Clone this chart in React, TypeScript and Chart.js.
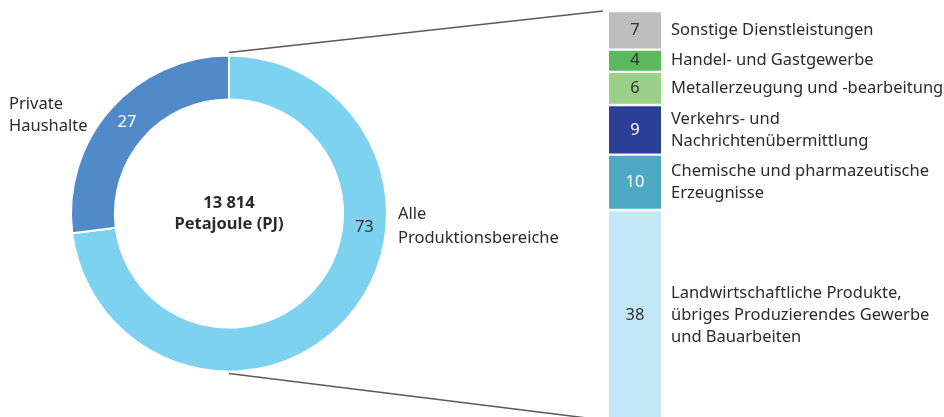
import React, { useEffect, useRef } from "react";
import { Chart, registerables } from "chart.js";
Chart.register(...registerables);

const shareLabels = ["Alle Produktionsbereiche", "Private Haushalte"];
const shareValues = [73, 27];
const shareOuterLabels = [["Alle", "Produktionsbereiche"], ["Private", "Haushalte"]];
const totalLines = ["13 814", "Petajoule (PJ)"];

const sectorLabels = [
  ["Landwirtschaftliche Produkte,", "übriges Produzierendes Gewerbe", "und Bauarbeiten"],
  ["Chemische und pharmazeutische", "Erzeugnisse"],
  ["Verkehrs- und", "Nachrichtenübermittlung"],
  ["Metallerzeugung und -bearbeitung"],
  ["Handel- und Gastgewerbe"],
  ["Sonstige Dienstleistungen"],
];
const sectorValues = [38, 10, 9, 6, 4, 7];

const shareColors = ["#7dd3ef", "#508ac8"];
const shareTextColors = ["#333333", "#ffffff"];
const sectorColors = ["#c3e7f5", "#4eaac4", "#2b3f96", "#9ad088", "#5cb85c", "#bebebe"];
const sectorTextColors = ["#333333", "#ffffff", "#ffffff", "#333333", "#333333", "#333333"];

const FONT = "'Noto Sans', sans-serif";
const FS = 16.5;
const TEXT = "#2b2b2b";

export default function App() {
  const barRef = useRef<HTMLCanvasElement>(null);
  const pieRef = useRef<HTMLCanvasElement>(null);

  useEffect(() => {
    const total = sectorValues.reduce((a, b) => a + b, 0);
    const barChart = new Chart(barRef.current!, {
      type: "bar",
      data: {
        labels: ["Produktionsbereiche"],
        datasets: sectorValues.map((v, i) => ({
          label: sectorLabels[i].join(" "),
          data: [v],
          backgroundColor: sectorColors[i],
          borderColor: "#ffffff",
          borderWidth: { top: 1.5, bottom: 1.5, left: 0, right: 0 },
          borderSkipped: false,
          barPercentage: 1,
          categoryPercentage: 1,
        })),
      },
      options: {
        responsive: false,
        animation: false,
        layout: { padding: { left: 609, right: 283, top: 11, bottom: 4 } },
        scales: {
          x: { stacked: true, display: false },
          y: { stacked: true, display: false, min: 0, max: total },
        },
        plugins: { legend: { display: false }, tooltip: { enabled: false } },
      },
      plugins: [
        {
          id: "barLabels",
          afterDatasetsDraw(chart: any) {
            const ctx = chart.ctx;
            ctx.save();
            chart.data.datasets.forEach((ds: any, i: number) => {
              const el = chart.getDatasetMeta(i).data[0] as any;
              const cy = (el.y + el.base) / 2;
              ctx.font = `${FS}px ${FONT}`;
              ctx.textBaseline = "middle";
              ctx.textAlign = "center";
              ctx.fillStyle = sectorTextColors[i];
              ctx.fillText(String(sectorValues[i]), el.x, cy);
              ctx.textAlign = "left";
              ctx.fillStyle = TEXT;
              const lines = sectorLabels[i];
              const lh = 22;
              lines.forEach((ln, k) => {
                ctx.fillText(ln, el.x + el.width / 2 + 10, cy + (k - (lines.length - 1) / 2) * lh);
              });
            });
            ctx.restore();
          },
        },
      ],
    } as any);

    const pieChart = new Chart(pieRef.current!, {
      type: "doughnut",
      data: {
        labels: shareLabels,
        datasets: [
          {
            data: shareValues,
            backgroundColor: shareColors,
            borderColor: "#ffffff",
            borderWidth: 2,
          },
        ],
      },
      options: {
        responsive: false,
        animation: false,
        radius: 158,
        cutout: "72.2%",
        layout: { padding: { left: 0, right: 486, top: 0, bottom: 0 } },
        plugins: { legend: { display: false }, tooltip: { enabled: false } },
      },
      plugins: [
        {
          id: "pieLabels",
          afterDraw(chart: any) {
            const ctx = chart.ctx;
            const arcs = chart.getDatasetMeta(0).data as any[];
            const a0 = arcs[0];
            const cx = a0.x;
            const cy = a0.y;
            const R = a0.outerRadius;
            const rMid = (a0.outerRadius + a0.innerRadius) / 2;
            ctx.save();
            // center text
            ctx.font = `bold ${FS}px ${FONT}`;
            ctx.fillStyle = TEXT;
            ctx.textAlign = "center";
            ctx.textBaseline = "middle";
            ctx.fillText(totalLines[0], cx, cy - 10);
            ctx.fillText(totalLines[1], cx, cy + 11);
            // values on ring
            ctx.font = `${FS}px ${FONT}`;
            const a1 = arcs[1];
            const m1 = (a1.startAngle + a1.endAngle) / 2;
            ctx.fillStyle = shareTextColors[1];
            ctx.fillText(String(shareValues[1]), cx + Math.cos(m1) * rMid, cy + Math.sin(m1) * rMid - 1);
            const m0 = 0.1;
            ctx.fillStyle = shareTextColors[0];
            ctx.fillText(String(shareValues[0]), cx + Math.cos(m0) * rMid, cy + Math.sin(m0) * rMid);
            // outer labels
            ctx.textAlign = "left";
            ctx.fillStyle = TEXT;
            shareOuterLabels[1].forEach((ln, k) => ctx.fillText(ln, cx - 220, cy - 109 + k * 22));
            shareOuterLabels[0].forEach((ln, k) => ctx.fillText(ln, cx + R + 11, cy + 1 + k * 24));
            // connector lines
            const bm = barChart.getDatasetMeta(sectorValues.length - 1).data[0] as any;
            const bb = barChart.getDatasetMeta(0).data[0] as any;
            const bx = bm.x - bm.width / 2 - 6;
            ctx.strokeStyle = "#5a5a5a";
            ctx.lineWidth = 1.3;
            ctx.beginPath();
            ctx.moveTo(cx, cy - R - 3);
            ctx.lineTo(bx, bm.y);
            ctx.moveTo(cx, cy + R + 2);
            ctx.lineTo(bx, bb.base);
            ctx.stroke();
            ctx.restore();
          },
        },
      ],
    } as any);

    return () => {
      pieChart.destroy();
      barChart.destroy();
    };
  }, []);

  return (
    <div
      style={{
        position: "fixed",
        left: 0,
        top: 0,
        width: 944,
        height: 417,
        overflow: "hidden",
        background: "#ffffff",
      }}
    >
      <canvas ref={barRef} width={944} height={424} style={{ position: "absolute", left: 0, top: 0 }} />
      <canvas ref={pieRef} width={944} height={427} style={{ position: "absolute", left: 0, top: 0 }} />
    </div>
  );
}
